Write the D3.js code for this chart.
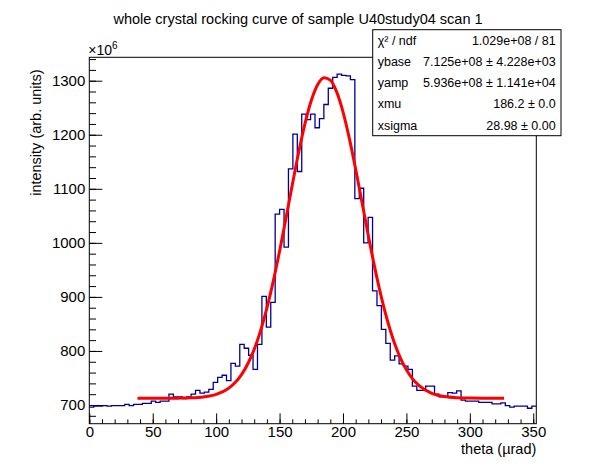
<!DOCTYPE html>
<html lang="en">
<head>
<meta charset="UTF-8">
<title>whole crystal rocking curve</title>
<script src="https://d3js.org/d3.v7.min.js"></script>
<style>
  body { margin: 0; background: #fff; }
  svg { display: block; }
  text { font-family: "Liberation Sans", Arial, Helvetica, sans-serif; fill: #000; }
</style>
</head>
<body>
<svg id="chart" width="596" height="472"></svg>
<script>
// histogram contents (x 10^6), 101 bins over 0 .. 352.4 urad
const xMax = 352.4;
const binValues = [
  696, 698, 698, 699, 698, 699, 699, 699, 701, 699,
  701, 701, 703, 703, 707, 705, 707, 707, 720, 715,
  715, 712, 715, 720, 727, 722, 724, 729, 742, 751,
  755, 745, 777, 772, 812, 805, 792, 766, 812, 901,
  844, 890, 1053, 1062, 992, 1137, 1201, 1132, 1238, 1228,
  1238, 1213, 1230, 1256, 1286, 1306, 1312, 1310, 1309, 1302,
  1082, 1101, 1000, 1047, 911, 884, 840, 814, 783, 791,
  776, 772, 766, 735, 727, 727, 735, 735, 720, 715,
  715, 723, 722, 726, 709, 707, 707, 707, 705, 705,
  705, 702, 702, 704, 699, 696, 698, 698, 698, 694,
  698
];

// fitted curve
const fitX = [38, 50, 60, 70, 80, 90, 100, 110, 115, 120, 125, 130, 135, 140, 145,
  150, 155, 160, 165, 170, 175, 180, 185, 190, 195, 200, 205, 210, 215, 220,
  225, 230, 235, 240, 245, 250, 255, 260, 270, 280, 290, 300, 310, 327];
const fitY = [712.5, 712.5, 712.5, 712.7, 713.2, 714.9, 719.6, 731.2, 741.5, 756.1, 776.3, 802.9, 837.1, 879.1, 928.6,
  984.6, 1045.0, 1107.0, 1166.7, 1220.2, 1263.4, 1292.7, 1305.6, 1301.0, 1279.3, 1242.5, 1193.4, 1136.2, 1074.8, 1013.2,
  954.7, 901.9, 856.3, 818.5, 788.3, 765.1, 747.9, 735.7, 721.6, 715.7, 713.5, 712.8, 712.6, 712.5];

const statLabels = ["\u03c7\u00b2 / ndf", "ybase", "yamp", "xmu", "xsigma"];
const statValues = ["1.029e+08 / 81", "7.125e+08 \u00b1 4.228e+03", "5.936e+08 \u00b1 1.141e+04",
  "186.2 \u00b1 0.0", "28.98 \u00b1 0.00"];

const xMajor = [0, 50, 100, 150, 200, 250, 300, 350];
const yMajor = [700, 800, 900, 1000, 1100, 1200, 1300];

const frame = { left: 89.3, right: 536.3, top: 57.3, bottom: 423.7 };
const svg = d3.select("#chart");

const x = d3.scaleLinear().domain([0, xMax]).range([frame.left, frame.right]);
const y = d3.scaleLinear().domain([665.4, 1343.3]).range([frame.bottom, frame.top]);

// minor ticks
const xMinor = d3.range(0, xMax, 10);
const yMinor = d3.range(680, 1343, 20);

const gx = svg.append("g").attr("transform", `translate(0,${frame.bottom})`);
gx.call(d3.axisBottom(x).tickValues(xMinor).tickSize(-4.3).tickFormat(""));
gx.call(g => g.select(".domain").remove());
const gx2 = svg.append("g").attr("transform", `translate(0,${frame.bottom})`);
gx2.call(d3.axisBottom(x).tickValues(xMajor).tickSize(-10.3).tickPadding(3).tickFormat(d3.format("d")));
gx2.call(g => g.select(".domain").remove());

const gy = svg.append("g").attr("transform", `translate(${frame.left},0)`);
gy.call(d3.axisLeft(y).tickValues(yMinor).tickSize(-6.7).tickFormat(""));
gy.call(g => g.select(".domain").remove());
const gy2 = svg.append("g").attr("transform", `translate(${frame.left},0)`);
gy2.call(d3.axisLeft(y).tickValues(yMajor).tickSize(-13).tickPadding(4).tickFormat(d3.format("d")));
gy2.call(g => g.select(".domain").remove());

svg.selectAll(".tick line").attr("stroke", "#000").attr("stroke-width", 1);
svg.selectAll(".tick text").attr("font-size", 15).attr("font-family", "Liberation Sans, Arial, sans-serif");

// histogram outline
const bw = xMax / binValues.length;
const steps = [];
binValues.forEach((v, i) => { steps.push([i * bw, v]); steps.push([(i + 1) * bw, v]); });
svg.append("path")
  .datum(steps)
  .attr("fill", "none")
  .attr("stroke", "#000099")
  .attr("stroke-width", 1.3)
  .attr("d", d3.line().x(d => x(d[0])).y(d => y(d[1])));

// fit
svg.append("path")
  .datum(fitX.map((d, i) => [d, fitY[i]]))
  .attr("fill", "none")
  .attr("stroke", "#ff0000")
  .attr("stroke-width", 3)
  .attr("d", d3.line().x(d => x(d[0])).y(d => y(d[1])).curve(d3.curveMonotoneX));

// frame
svg.append("rect")
  .attr("x", frame.left).attr("y", frame.top)
  .attr("width", frame.right - frame.left).attr("height", frame.bottom - frame.top)
  .attr("fill", "none").attr("stroke", "#000").attr("stroke-width", 1);

// exponent
const ex = svg.append("text").attr("x", frame.left - 1).attr("y", 55).attr("font-size", 14);
ex.append("tspan").text("\u00d710");
ex.append("tspan").attr("dy", -6).attr("font-size", 10).text("6");

// titles
svg.append("text").attr("x", 298).attr("y", 24).attr("text-anchor", "middle")
  .attr("font-size", 14.5).text("whole crystal rocking curve of sample U40study04 scan 1");
svg.append("text").attr("x", frame.right).attr("y", 454).attr("text-anchor", "end")
  .attr("font-size", 14.5).text("theta (\u00b5rad)");
svg.append("text").attr("transform", `translate(41,${frame.top + 12}) rotate(-90)`)
  .attr("text-anchor", "end").attr("font-size", 14.5).text("intensity (arb. units)");

// stats box
const box = { x0: 372.7, x1: 561, y0: 29.7, y1: 135.7 };
svg.append("rect").attr("x", box.x0).attr("y", box.y0)
  .attr("width", box.x1 - box.x0).attr("height", box.y1 - box.y0)
  .attr("fill", "#fff").attr("stroke", "#000").attr("stroke-width", 1);
const rowH = (box.y1 - box.y0) / statLabels.length;
statLabels.forEach((s, i) => {
  svg.append("text").attr("x", box.x0 + 5).attr("y", box.y0 + rowH * (i + 0.5) + 4.5)
    .attr("font-size", 12.5).text(s);
  svg.append("text").attr("x", box.x1 - 5.3).attr("y", box.y0 + rowH * (i + 0.5) + 4.5)
    .attr("text-anchor", "end").attr("font-size", 12.5).text(statValues[i]);
});
</script>
</body>
</html>
